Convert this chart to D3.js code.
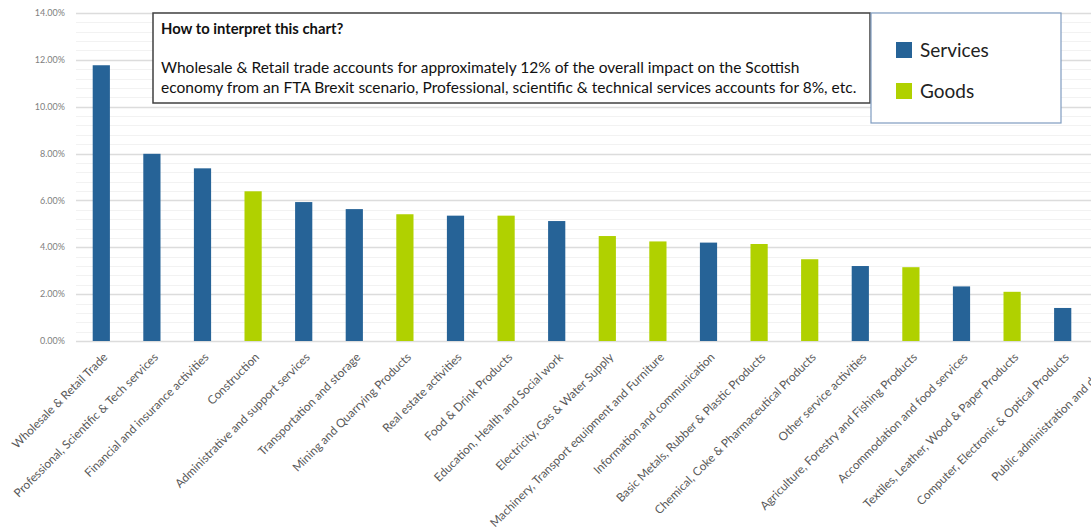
<!DOCTYPE html>
<html>
<head>
<meta charset="utf-8">
<script src="https://cdn.jsdelivr.net/npm/d3@7"></script>
<style>
  body { margin: 0; background: #fff; }
  svg { display: block; font-family: Lato, "Open Sans", sans-serif; }
</style>
</head>
<body>
<div id="chart"></div>
<script>
//************* data ***************/
var sectors = [
  "Wholesale & Retail Trade",
  "Professional, Scientific & Tech services",
  "Financial and insurance activities",
  "Construction",
  "Administrative and support services",
  "Transportation and storage",
  "Mining and Quarrying Products",
  "Real estate activities",
  "Food & Drink Products",
  "Education, Health and Social work",
  "Electricity, Gas & Water Supply",
  "Machinery, Transport equipment and Furniture",
  "Information and communication",
  "Basic Metals, Rubber & Plastic Products",
  "Chemical, Coke & Pharmaceutical Products",
  "Other service activities",
  "Agriculture, Forestry and Fishing Products",
  "Accommodation and food services",
  "Textiles, Leather, Wood & Paper Products",
  "Computer, Electronic & Optical Products",
  "Public administration and defence"
]

// share of overall impact (%), as drawn (last category falls off the picture)
var shares = [11.77, 7.99, 7.37, 6.39, 5.93, 5.63, 5.41, 5.35, 5.35, 5.12,
              4.48, 4.25, 4.20, 4.14, 3.49, 3.20, 3.15, 2.33, 2.10, 1.41]

// bar colour group, as drawn
var kinds = ["Services","Services","Services","Goods","Services","Services","Goods","Services","Goods","Services",
             "Goods","Goods","Services","Goods","Goods","Services","Goods","Services","Goods","Services"]

var yTicks = [0, 2, 4, 6, 8, 10, 12, 14]
var legendItems = ["Services", "Goods"]

var noteTitle = "How to interpret this chart?"
var noteLines = [
  "Wholesale & Retail trade accounts for approximately 12% of the overall impact on the Scottish",
  "economy from an FTA Brexit scenario, Professional, scientific & technical services accounts for 8%, etc."
]

//************* set dimensions ***************/
var W = 1091, H = 529
var margin = {left: 76, top: 13}
var plotH = 341 - margin.top
var step = 50.6

var svg = d3.select("#chart")
  .append("svg")
    .attr("width", W)
    .attr("height", H)

var g = svg.append("g")
    .attr("transform", "translate(" + margin.left + "," + margin.top + ")")

//************* scales ***************/
var x = d3.scaleBand()
  .domain(sectors)
  .range([0, step * sectors.length])
  .paddingInner(0.66)
  .paddingOuter(0.33)

var y = d3.scaleLinear()
  .domain([0, 14])
  .range([plotH, 0])

var color = d3.scaleOrdinal()
  .domain(legendItems)
  .range(["#266397", "#b0d100"])

//************* gridlines ***************/
// minor lines every 0.4%
g.append("g")
  .selectAll("line")
  .data(d3.range(0, 14.01, 0.4).filter(function(v) { return Math.abs(v / 2 - Math.round(v / 2)) > 0.01; }))
  .enter().append("line")
    .attr("x1", 0).attr("x2", W)
    .attr("y1", function(d) { return Math.round(y(d)) + 0.5; })
    .attr("y2", function(d) { return Math.round(y(d)) + 0.5; })
    .attr("stroke", "#f2f2f2")

// major lines
g.append("g")
  .selectAll("line")
  .data(yTicks)
  .enter().append("line")
    .attr("x1", 0).attr("x2", W)
    .attr("y1", function(d) { return Math.round(y(d)) + 0.5; })
    .attr("y2", function(d) { return Math.round(y(d)) + 0.5; })
    .attr("stroke", "#dcdcdc")
    .attr("stroke-width", 1.3)

//************* y axis labels ***************/
g.append("g")
  .selectAll("text")
  .data(yTicks)
  .enter().append("text")
    .attr("x", -11)
    .attr("y", function(d) { return y(d); })
    .attr("dy", "0.35em")
    .attr("text-anchor", "end")
    .attr("font-size", "9px")
    .attr("fill", "#808080")
    .text(function(d) { return d3.format(".2f")(d) + "%"; })

//************* bars ***************/
g.append("g")
  .selectAll("rect")
  .data(shares)
  .enter().append("rect")
    .attr("x", function(d, i) { return x(sectors[i]); })
    .attr("width", x.bandwidth())
    .attr("y", function(d) { return y(d); })
    .attr("height", function(d) { return y(0) - y(d); })
    .attr("fill", function(d, i) { return color(kinds[i]); })

//************* x labels ***************/
g.append("g")
  .selectAll("text")
  .data(sectors)
  .enter().append("text")
    .attr("transform", function(d) {
      return "translate(" + (x(d) + x.bandwidth() / 2 + 4) + "," + (plotH + 14) + ") rotate(-45)";
    })
    .attr("text-anchor", "end")
    .attr("dy", "0.35em")
    .attr("font-size", "11.8px")
    .attr("fill", "#595959")
    .text(function(d) { return d; })

//************* note box ***************/
var note = svg.append("g")
  .attr("transform", "translate(153,13)")

note.append("rect")
  .attr("width", 717)
  .attr("height", 90)
  .attr("fill", "#fff")
  .attr("stroke", "#404040")
  .attr("stroke-width", 1.5)

note.append("text")
  .attr("x", 8)
  .attr("y", 21)
  .attr("font-size", "14.8px")
  .attr("font-weight", "bold")
  .attr("fill", "#111")
  .text(noteTitle)

note.selectAll("text.line")
  .data(noteLines)
  .enter().append("text")
    .attr("class", "line")
    .attr("x", 8)
    .attr("y", function(d, i) { return 60 + i * 20; })
    .attr("font-size", "15.5px")
    .attr("fill", "#111")
    .text(function(d) { return d; })

//************* legend ***************/
var legend = svg.append("g")
  .attr("transform", "translate(871,13)")

legend.append("rect")
  .attr("width", 190)
  .attr("height", 110)
  .attr("fill", "#fff")
  .attr("stroke", "#7f9cc0")
  .attr("stroke-width", 1.2)

legendItems.forEach(function(k, i) {
  var row = legend.append("g")
    .attr("transform", "translate(25," + (29 + i * 41) + ")")
  row.append("rect")
    .attr("width", 16)
    .attr("height", 16)
    .attr("fill", color(k))
  row.append("text")
    .attr("x", 24)
    .attr("y", 15)
    .attr("font-size", "19px")
    .attr("fill", "#222")
    .text(k)
})
</script>
</body>
</html>
